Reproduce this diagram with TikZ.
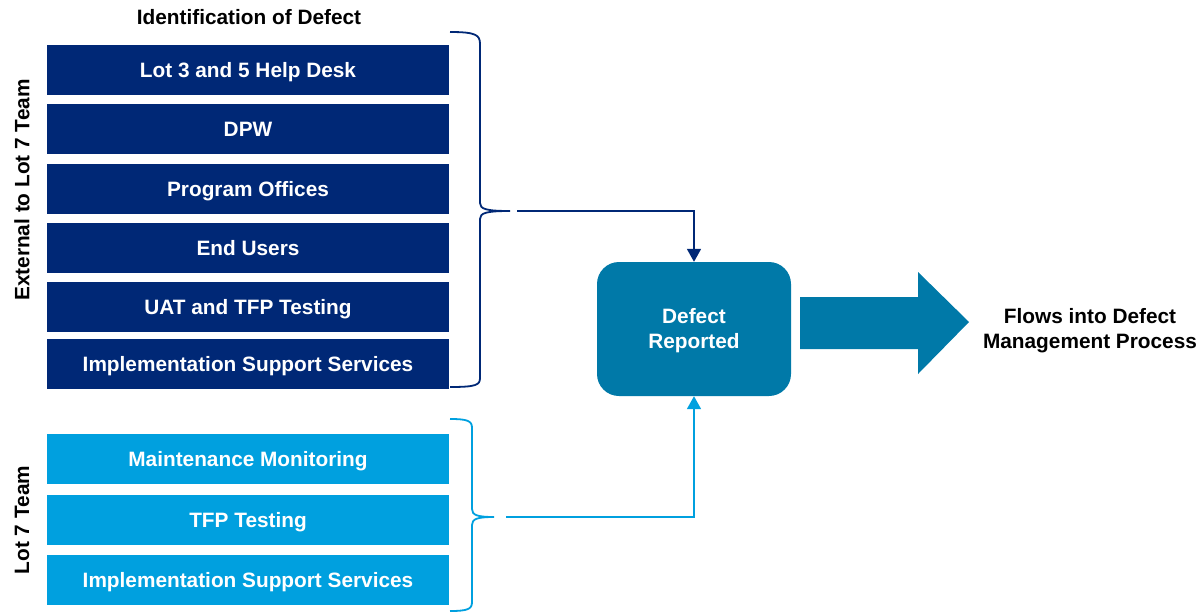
\documentclass[tikz,border=0pt]{standalone}
\usepackage{fontspec}
\setmainfont{Liberation Sans}
\usetikzlibrary{arrows.meta}
\definecolor{navy}{RGB}{0,40,118}
\definecolor{sky}{RGB}{0,160,223}
\definecolor{teal}{RGB}{0,121,168}
\tikzset{
  srcbox/.style={minimum width=402pt, minimum height=50pt, inner sep=0pt,
    text height=15pt, text depth=0pt,
    text=white, font=\fontsize{20.8}{23}\selectfont\bfseries},
  extbox/.style={srcbox, fill=navy},
  intbox/.style={srcbox, fill=sky},
  caption/.style={font=\fontsize{20.8}{25}\selectfont\bfseries, align=center},
  bracepath/.style={line width=1.8pt},
  link/.style={line width=1.8pt, -{Triangle[width=14pt,length=13pt]}},
}
\begin{document}
\begin{tikzpicture}[x=1pt,y=-1pt]
\useasboundingbox (0,0) rectangle (1202,613);

% heading and side labels
\node[caption] (title) at (249,17) {Identification of Defect};
\node[caption, rotate=90] (extlabel) at (22,190) {External to Lot 7 Team};
\node[caption, rotate=90] (intlabel) at (22,520) {Lot 7 Team};

% sources outside the Lot 7 team
\node[extbox] (e1) at (248,70)  {Lot 3 and 5 Help Desk};
\node[extbox] (e2) at (248,129) {DPW};
\node[extbox] (e3) at (248,189) {Program Offices};
\node[extbox] (e4) at (248,248) {End Users};
\node[extbox] (e5) at (248,307) {UAT and TFP Testing};
\node[extbox] (e6) at (248,364) {Implementation Support Services};

% sources inside the Lot 7 team
\node[intbox] (i1) at (248,459) {Maintenance Monitoring};
\node[intbox] (i2) at (248,520) {TFP Testing};
\node[intbox] (i3) at (248,580) {Implementation Support Services};

% central node
\node[fill=teal, rounded corners=22pt, minimum width=194pt, minimum height=134pt,
  inner sep=0pt, text=white, align=center, font=\fontsize{20.8}{25}\selectfont\bfseries]
  (defect) at (694,329) {};
\node[text=white, align=center, font=\fontsize{20.8}{25}\selectfont\bfseries]
  (defecttext) at (694,331) {Defect\\Reported};

% braces
\draw[navy, bracepath] (450,32) .. controls (476,32) and (480,35) .. (480,44)
  -- (480,203) .. controls (480,209) and (486,211) .. (510,211)
  .. controls (486,211) and (480,213) .. (480,219)
  -- (480,378) .. controls (480,385) and (476,387) .. (450,387);
\coordinate (extout) at (517,211);
\draw[sky, bracepath] (450,419) .. controls (468,419) and (472,421) .. (472,428)
  -- (472,509) .. controls (472,515) and (477,517) .. (494,517)
  .. controls (477,517) and (472,519) .. (472,525)
  -- (472,602) .. controls (472,609) and (468,611) .. (450,611);
\coordinate (intout) at (506,517);

% connectors into the central node
\draw[navy, link] (extout) -| (defect.north);
\draw[sky, link] (intout) -| (defect.south);

% outgoing block arrow
\fill[teal] (800,297) -- (918,297) -- (918,272) -- (969,322) -- (918,374)
  -- (918,349) -- (800,349) -- cycle;
\node[caption] (flows) at (1090,331) {Flows into Defect\\Management Process};
\end{tikzpicture}
\end{document}
